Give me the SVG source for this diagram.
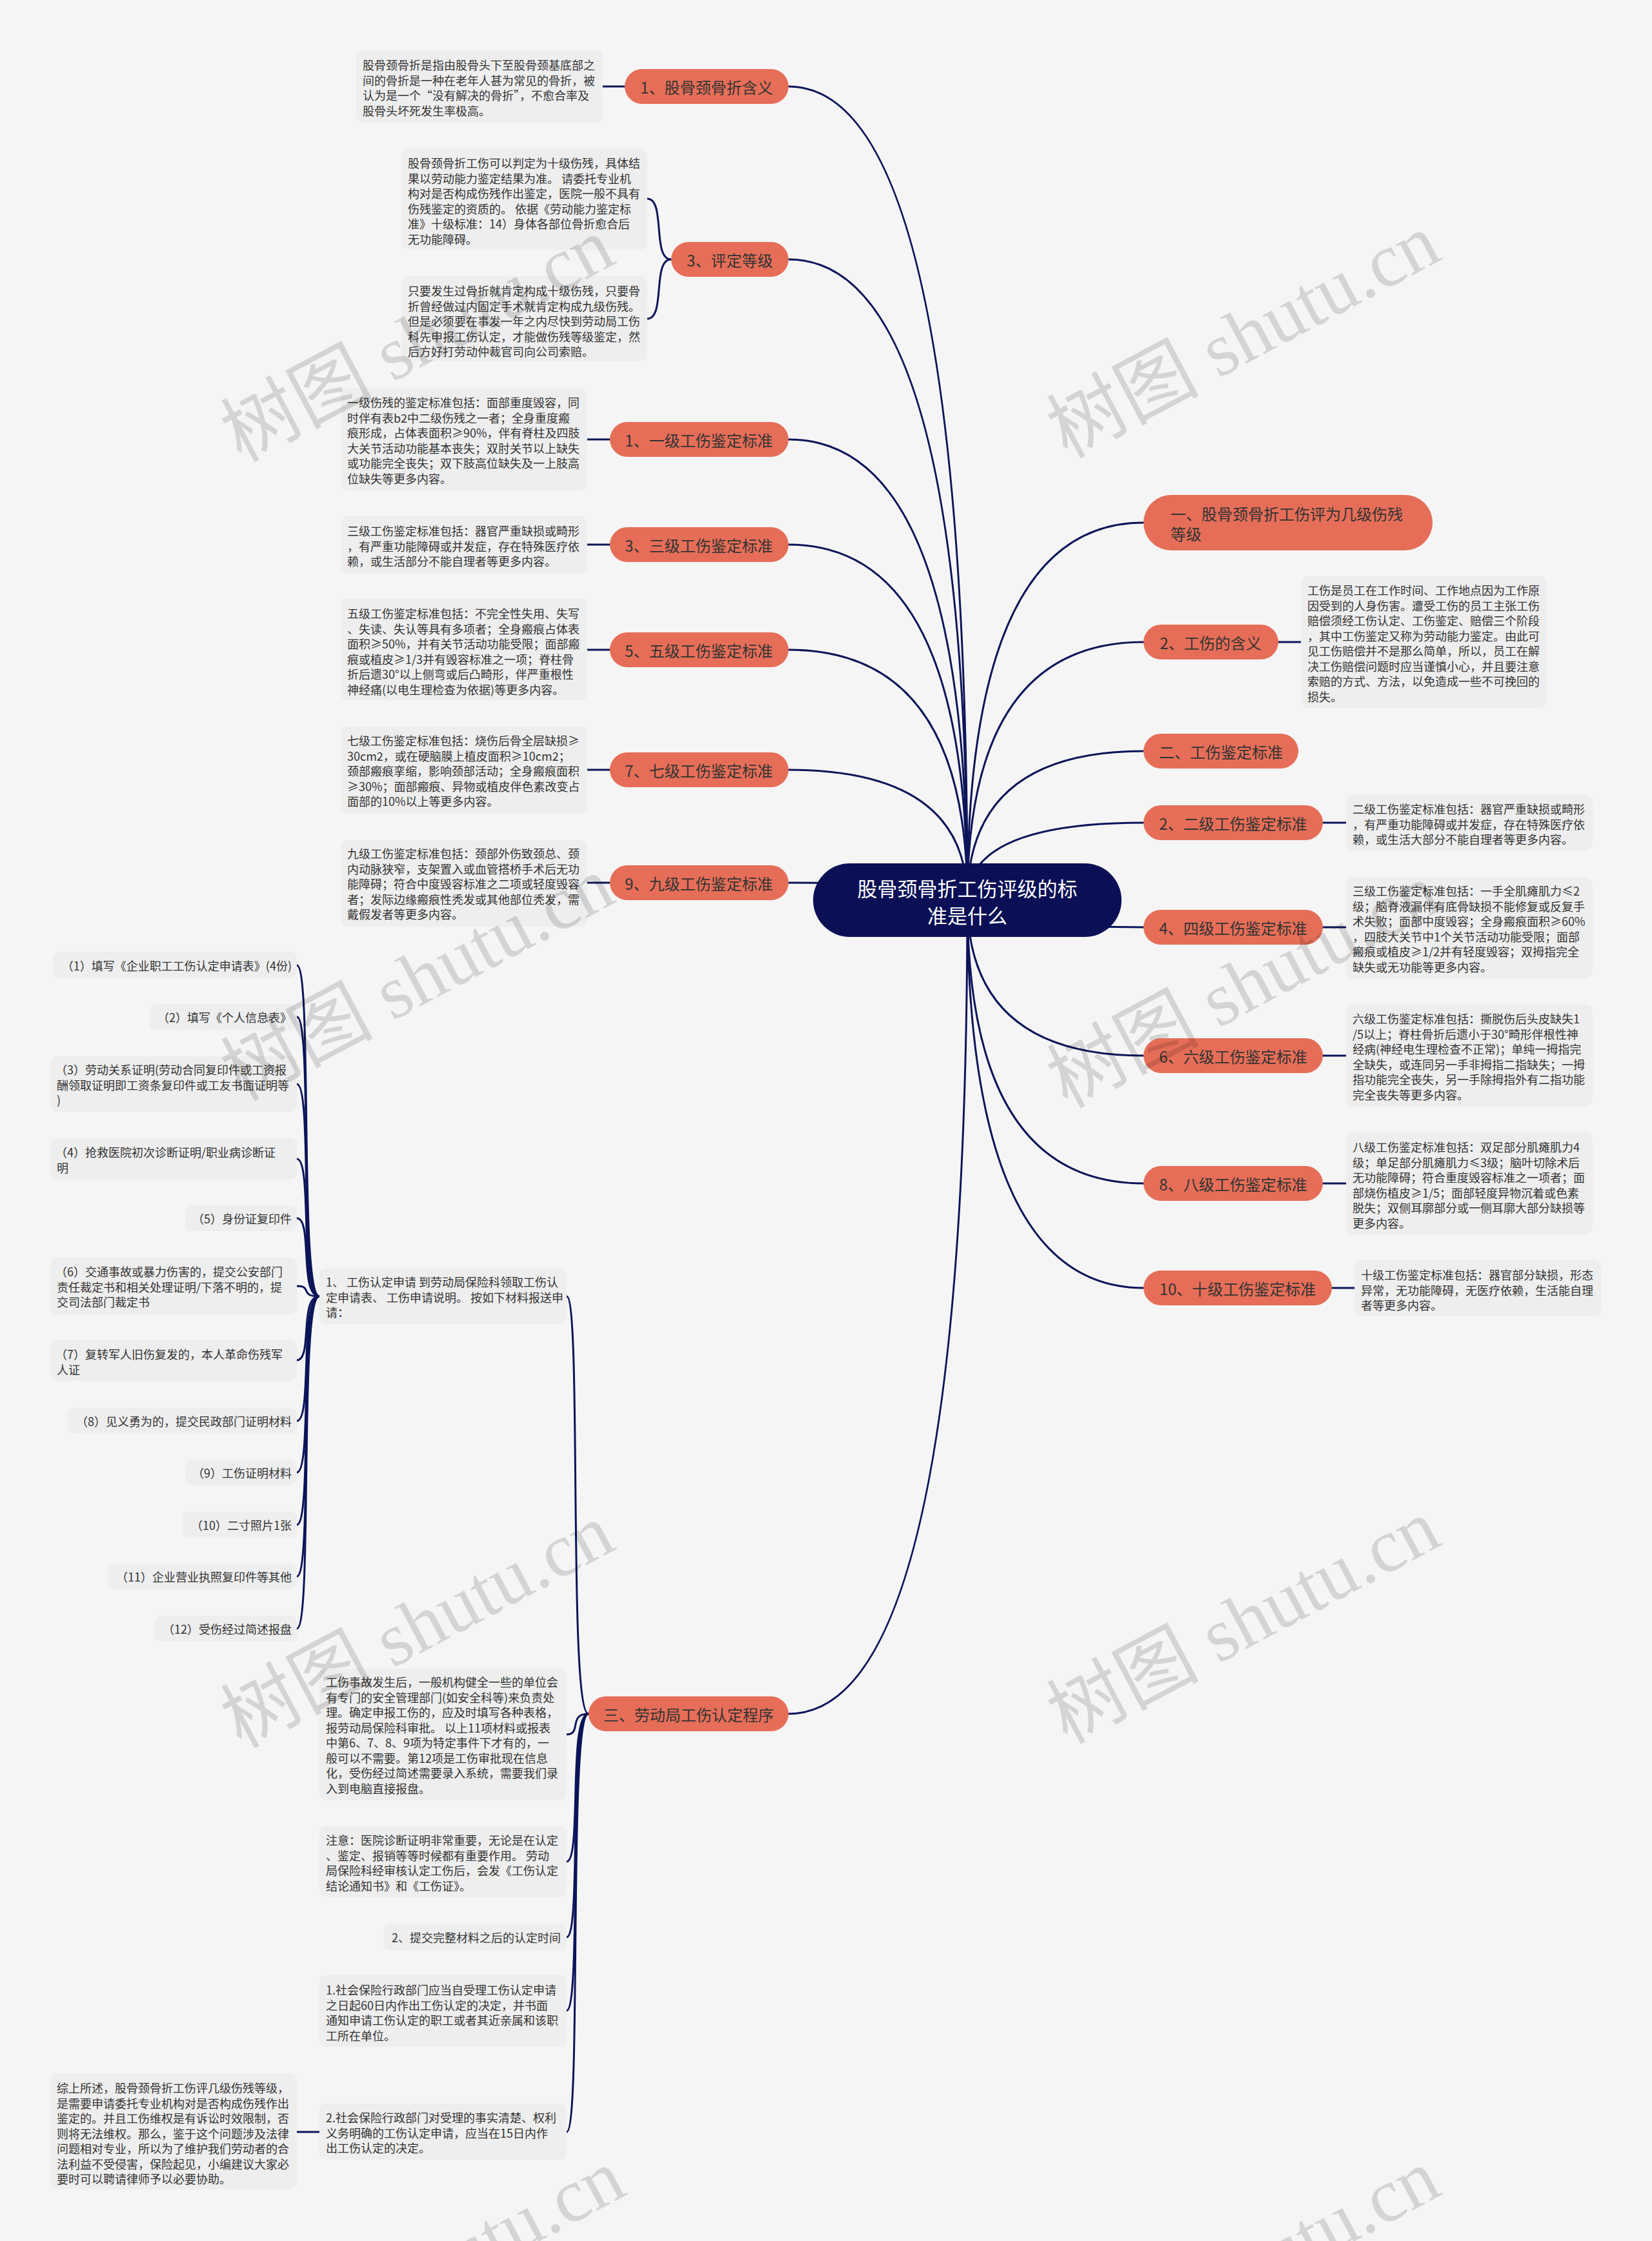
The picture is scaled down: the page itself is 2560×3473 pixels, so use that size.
<svg xmlns="http://www.w3.org/2000/svg" width="2560" height="3473" viewBox="0 0 2560 3473">
<style>
.ln{fill:none;stroke:#0C1559;stroke-width:3;stroke-linecap:round}
.n1{fill:#E66E58}
.root{fill:#0B1056}
.nt{font-family:"Noto Sans CJK SC","Liberation Sans",sans-serif;font-size:24px;fill:#333;text-anchor:middle;dominant-baseline:central}
.rt{font-family:"Noto Sans CJK SC","Liberation Sans",sans-serif;font-size:31px;fill:#fff;text-anchor:middle;dominant-baseline:central}
.box{fill:#EEEEEE}
.bt{font-family:"Noto Sans CJK SC","Liberation Sans",sans-serif;font-size:18px;fill:#333;dominant-baseline:central}
.be{text-anchor:end}
.wm{font-family:"Liberation Serif","Noto Sans CJK SC",serif;font-size:118px;fill:#000;opacity:0.13;text-anchor:middle;dominant-baseline:central}
</style>
<rect x="0" y="0" width="2560" height="3473" fill="#F5F5F5"/>

<g id="connectors">
<path class="ln" d="M1499 1395 Q1499 134 1222 134"/>
<path class="ln" d="M1499 1395 Q1499 402 1222 402"/>
<path class="ln" d="M1499 1395 Q1499 681 1222 681"/>
<path class="ln" d="M1499 1395 Q1499 844 1222 844"/>
<path class="ln" d="M1499 1395 Q1499 1007 1222 1007"/>
<path class="ln" d="M1499 1395 Q1499 1193 1222 1193"/>
<path class="ln" d="M1499 1395 Q1499 1368 1222 1368"/>
<path class="ln" d="M1499 1395 Q1499 2656 1222 2656"/>
<path class="ln" d="M1499 1395 Q1499 810 1772 810"/>
<path class="ln" d="M1499 1395 Q1499 995 1772 995"/>
<path class="ln" d="M1499 1395 Q1499 1164 1772 1164"/>
<path class="ln" d="M1499 1395 Q1499 1275 1772 1275"/>
<path class="ln" d="M1499 1395 Q1499 1437 1772 1437"/>
<path class="ln" d="M1499 1395 Q1499 1636 1772 1636"/>
<path class="ln" d="M1499 1395 Q1499 1834 1772 1834"/>
<path class="ln" d="M1499 1395 Q1499 1996 1772 1996"/>
<path class="ln" d="M934 134 H968"/>
<path class="ln" d="M1040 402 C1010 402 1032 308 1003 308"/>
<path class="ln" d="M1040 402 C1010 402 1032 494 1003 494"/>
<path class="ln" d="M910 681 H945"/>
<path class="ln" d="M910 844 H945"/>
<path class="ln" d="M910 1007 H945"/>
<path class="ln" d="M910 1193 H945"/>
<path class="ln" d="M910 1368 H945"/>
<path class="ln" d="M1981 995 H2016"/>
<path class="ln" d="M2050 1275 H2086"/>
<path class="ln" d="M2050 1437 H2086"/>
<path class="ln" d="M2050 1636 H2086"/>
<path class="ln" d="M2050 1834 H2086"/>
<path class="ln" d="M2064 1996 H2099"/>
<path class="ln" d="M912 2656 C880 2656 902 2009 878 2009"/>
<path class="ln" d="M912 2656 C880 2656 902 2688 878 2688"/>
<path class="ln" d="M912 2656 C880 2656 902 2885 878 2885"/>
<path class="ln" d="M912 2656 C880 2656 902 3002 878 3002"/>
<path class="ln" d="M912 2656 C880 2656 902 3116 878 3116"/>
<path class="ln" d="M912 2656 C880 2656 902 3304 878 3304"/>
<path class="ln" d="M495 2009 C463 2009 485 1496 460 1496"/>
<path class="ln" d="M495 2009 C463 2009 485 1576 460 1576"/>
<path class="ln" d="M495 2009 C463 2009 485 1680 460 1680"/>
<path class="ln" d="M495 2009 C463 2009 485 1796 460 1796"/>
<path class="ln" d="M495 2009 C463 2009 485 1888 460 1888"/>
<path class="ln" d="M495 2009 C463 2009 485 1993 460 1993"/>
<path class="ln" d="M495 2009 C463 2009 485 2108 460 2108"/>
<path class="ln" d="M495 2009 C463 2009 485 2202 460 2202"/>
<path class="ln" d="M495 2009 C463 2009 485 2282 460 2282"/>
<path class="ln" d="M495 2009 C463 2009 485 2363 460 2363"/>
<path class="ln" d="M495 2009 C463 2009 485 2443 460 2443"/>
<path class="ln" d="M495 2009 C463 2009 485 2524 460 2524"/>
<path class="ln" d="M460 3304 H495"/>
</g>

<g id="n-root">
<rect class="root" x="1260" y="1338" width="478" height="114" rx="57"/>
<text class="rt"><tspan x="1499" y="1375">股骨颈骨折工伤评级的标</tspan><tspan x="1499" y="1417">准是什么</tspan></text>
</g>

<g id="n-a"><rect class="n1" x="968" y="107" width="254" height="54" rx="27"/><text class="nt" x="1095" y="134">1、股骨颈骨折含义</text></g>
<g id="n-b"><rect class="n1" x="1040" y="375" width="182" height="54" rx="27"/><text class="nt" x="1131" y="402">3、评定等级</text></g>
<g id="n-c"><rect class="n1" x="945" y="654" width="277" height="54" rx="27"/><text class="nt" x="1083" y="681">1、一级工伤鉴定标准</text></g>
<g id="n-d"><rect class="n1" x="945" y="817" width="277" height="54" rx="27"/><text class="nt" x="1083" y="844">3、三级工伤鉴定标准</text></g>
<g id="n-e"><rect class="n1" x="945" y="980" width="277" height="54" rx="27"/><text class="nt" x="1083" y="1007">5、五级工伤鉴定标准</text></g>
<g id="n-f"><rect class="n1" x="945" y="1166" width="277" height="54" rx="27"/><text class="nt" x="1083" y="1193">7、七级工伤鉴定标准</text></g>
<g id="n-g"><rect class="n1" x="945" y="1341" width="277" height="54" rx="27"/><text class="nt" x="1083" y="1368">9、九级工伤鉴定标准</text></g>
<g id="n-h"><rect class="n1" x="912" y="2629" width="310" height="54" rx="27"/><text class="nt" x="1067" y="2656">三、劳动局工伤认定程序</text></g>

<g id="n-r1"><rect class="n1" x="1772" y="767" width="448" height="86" rx="43"/><text class="nt" style="text-anchor:start"><tspan x="1814" y="795">一、股骨颈骨折工伤评为几级伤残</tspan><tspan x="1814" y="826">等级</tspan></text></g>
<g id="n-r2"><rect class="n1" x="1772" y="968" width="209" height="54" rx="27"/><text class="nt" x="1876" y="995">2、工伤的含义</text></g>
<g id="n-r3"><rect class="n1" x="1772" y="1137" width="240" height="54" rx="27"/><text class="nt" x="1892" y="1164">二、工伤鉴定标准</text></g>
<g id="n-r4"><rect class="n1" x="1772" y="1248" width="278" height="54" rx="27"/><text class="nt" x="1911" y="1275">2、二级工伤鉴定标准</text></g>
<g id="n-r5"><rect class="n1" x="1772" y="1410" width="278" height="54" rx="27"/><text class="nt" x="1911" y="1437">4、四级工伤鉴定标准</text></g>
<g id="n-r6"><rect class="n1" x="1772" y="1609" width="278" height="54" rx="27"/><text class="nt" x="1911" y="1636">6、六级工伤鉴定标准</text></g>
<g id="n-r7"><rect class="n1" x="1772" y="1807" width="278" height="54" rx="27"/><text class="nt" x="1911" y="1834">8、八级工伤鉴定标准</text></g>
<g id="n-r8"><rect class="n1" x="1772" y="1969" width="292" height="54" rx="27"/><text class="nt" x="1918" y="1996">10、十级工伤鉴定标准</text></g>

<g id="d-a"><rect class="box" x="552" y="78" width="382" height="112" rx="10"/>
<text class="bt"><tspan x="562" y="100">股骨颈骨折是指由股骨头下至股骨颈基底部之</tspan><tspan x="562" y="123.5">间的骨折是一种在老年人甚为常见的骨折，被</tspan><tspan x="562" y="147">认为是一个“没有解决的骨折”，不愈合率及</tspan><tspan x="562" y="170.5">股骨头坏死发生率极高。</tspan></text></g>

<g id="d-b1"><rect class="box" x="622" y="230" width="381" height="157" rx="10"/>
<text class="bt"><tspan x="632" y="252">股骨颈骨折工伤可以判定为十级伤残，具体结</tspan><tspan x="632" y="275.5">果以劳动能力鉴定结果为准。 请委托专业机</tspan><tspan x="632" y="299">构对是否构成伤残作出鉴定，医院一般不具有</tspan><tspan x="632" y="322.5">伤残鉴定的资质的。 依据《劳动能力鉴定标</tspan><tspan x="632" y="346">准》十级标准：14）身体各部位骨折愈合后</tspan><tspan x="632" y="369.5">无功能障碍。</tspan></text></g>

<g id="d-b2"><rect class="box" x="622" y="428" width="381" height="132" rx="10"/>
<text class="bt"><tspan x="632" y="450">只要发生过骨折就肯定构成十级伤残，只要骨</tspan><tspan x="632" y="473.5">折曾经做过内固定手术就肯定构成九级伤残。</tspan><tspan x="632" y="497">但是必须要在事发一年之内尽快到劳动局工伤</tspan><tspan x="632" y="520.5">科先申报工伤认定，才能做伤残等级鉴定，然</tspan><tspan x="632" y="544">后方好打劳动仲裁官司向公司索赔。</tspan></text></g>

<g id="d-c"><rect class="box" x="528" y="602" width="382" height="158" rx="10"/>
<text class="bt"><tspan x="538" y="623">一级伤残的鉴定标准包括：面部重度毁容，同</tspan><tspan x="538" y="646.5">时伴有表b2中二级伤残之一者；全身重度瘢</tspan><tspan x="538" y="670">痕形成，占体表面积≥90%，伴有脊柱及四肢</tspan><tspan x="538" y="693.5">大关节活动功能基本丧失；双肘关节以上缺失</tspan><tspan x="538" y="717">或功能完全丧失；双下肢高位缺失及一上肢高</tspan><tspan x="538" y="740.5">位缺失等更多内容。</tspan></text></g>

<g id="d-d"><rect class="box" x="528" y="800" width="382" height="88" rx="10"/>
<text class="bt"><tspan x="538" y="822">三级工伤鉴定标准包括：器官严重缺损或畸形</tspan><tspan x="538" y="845.5">，有严重功能障碍或并发症，存在特殊医疗依</tspan><tspan x="538" y="869">赖，或生活部分不能自理者等更多内容。</tspan></text></g>

<g id="d-e"><rect class="box" x="528" y="928" width="382" height="157" rx="10"/>
<text class="bt"><tspan x="538" y="950">五级工伤鉴定标准包括：不完全性失用、失写</tspan><tspan x="538" y="973.5">、失读、失认等具有多项者；全身瘢痕占体表</tspan><tspan x="538" y="997">面积≥50%，并有关节活动功能受限；面部瘢</tspan><tspan x="538" y="1020.5">痕或植皮≥1/3并有毁容标准之一项；脊柱骨</tspan><tspan x="538" y="1044">折后遗30°以上侧弯或后凸畸形，伴严重根性</tspan><tspan x="538" y="1067.5">神经痛(以电生理检查为依据)等更多内容。</tspan></text></g>

<g id="d-f"><rect class="box" x="528" y="1126" width="382" height="134" rx="10"/>
<text class="bt"><tspan x="538" y="1147">七级工伤鉴定标准包括：烧伤后骨全层缺损≥</tspan><tspan x="538" y="1170.5">30cm2，或在硬脑膜上植皮面积≥10cm2；</tspan><tspan x="538" y="1194">颈部瘢痕挛缩，影响颈部活动；全身瘢痕面积</tspan><tspan x="538" y="1217.5">≥30%；面部瘢痕、异物或植皮伴色素改变占</tspan><tspan x="538" y="1241">面部的10%以上等更多内容。</tspan></text></g>

<g id="d-g"><rect class="box" x="528" y="1302" width="382" height="134" rx="10"/>
<text class="bt"><tspan x="538" y="1322">九级工伤鉴定标准包括：颈部外伤致颈总、颈</tspan><tspan x="538" y="1345.5">内动脉狭窄，支架置入或血管搭桥手术后无功</tspan><tspan x="538" y="1369">能障碍；符合中度毁容标准之二项或轻度毁容</tspan><tspan x="538" y="1392.5">者；发际边缘瘢痕性秃发或其他部位秃发，需</tspan><tspan x="538" y="1416">戴假发者等更多内容。</tspan></text></g>

<g id="d-r2"><rect class="box" x="2016" y="893" width="381" height="204" rx="10"/>
<text class="bt"><tspan x="2026" y="914">工伤是员工在工作时间、工作地点因为工作原</tspan><tspan x="2026" y="937.5">因受到的人身伤害。遭受工伤的员工主张工伤</tspan><tspan x="2026" y="961">赔偿须经工伤认定、工伤鉴定、赔偿三个阶段</tspan><tspan x="2026" y="984.5">，其中工伤鉴定又称为劳动能力鉴定。由此可</tspan><tspan x="2026" y="1008">见工伤赔偿并不是那么简单，所以，员工在解</tspan><tspan x="2026" y="1031.5">决工伤赔偿问题时应当谨慎小心，并且要注意</tspan><tspan x="2026" y="1055">索赔的方式、方法，以免造成一些不可挽回的</tspan><tspan x="2026" y="1078.5">损失。</tspan></text></g>

<g id="d-r4"><rect class="box" x="2086" y="1232" width="382" height="86" rx="10"/>
<text class="bt"><tspan x="2096" y="1253">二级工伤鉴定标准包括：器官严重缺损或畸形</tspan><tspan x="2096" y="1276.5">，有严重功能障碍或并发症，存在特殊医疗依</tspan><tspan x="2096" y="1300">赖，或生活大部分不能自理者等更多内容。</tspan></text></g>

<g id="d-r5"><rect class="box" x="2086" y="1360" width="382" height="157" rx="10"/>
<text class="bt"><tspan x="2096" y="1380">三级工伤鉴定标准包括：一手全肌瘫肌力≤2</tspan><tspan x="2096" y="1403.5">级；脑脊液漏伴有底骨缺损不能修复或反复手</tspan><tspan x="2096" y="1427">术失败；面部中度毁容；全身瘢痕面积≥60%</tspan><tspan x="2096" y="1450.5">，四肢大关节中1个关节活动功能受限；面部</tspan><tspan x="2096" y="1474">瘢痕或植皮≥1/2并有轻度毁容；双拇指完全</tspan><tspan x="2096" y="1497.5">缺失或无功能等更多内容。</tspan></text></g>

<g id="d-r6"><rect class="box" x="2086" y="1557" width="382" height="158" rx="10"/>
<text class="bt"><tspan x="2096" y="1578">六级工伤鉴定标准包括：撕脱伤后头皮缺失1</tspan><tspan x="2096" y="1601.5">/5以上；脊柱骨折后遗小于30°畸形伴根性神</tspan><tspan x="2096" y="1625">经病(神经电生理检查不正常)；单纯一拇指完</tspan><tspan x="2096" y="1648.5">全缺失，或连同另一手非拇指二指缺失；一拇</tspan><tspan x="2096" y="1672">指功能完全丧失，另一手除拇指外有二指功能</tspan><tspan x="2096" y="1695.5">完全丧失等更多内容。</tspan></text></g>

<g id="d-r7"><rect class="box" x="2086" y="1755" width="382" height="158" rx="10"/>
<text class="bt"><tspan x="2096" y="1777">八级工伤鉴定标准包括：双足部分肌瘫肌力4</tspan><tspan x="2096" y="1800.5">级；单足部分肌瘫肌力≤3级；脑叶切除术后</tspan><tspan x="2096" y="1824">无功能障碍；符合重度毁容标准之一项者；面</tspan><tspan x="2096" y="1847.5">部烧伤植皮≥1/5；面部轻度异物沉着或色素</tspan><tspan x="2096" y="1871">脱失；双侧耳廓部分或一侧耳廓大部分缺损等</tspan><tspan x="2096" y="1894.5">更多内容。</tspan></text></g>

<g id="d-r8"><rect class="box" x="2099" y="1953" width="382" height="87" rx="10"/>
<text class="bt"><tspan x="2109" y="1975">十级工伤鉴定标准包括：器官部分缺损，形态</tspan><tspan x="2109" y="1998.5">异常，无功能障碍，无医疗依赖，生活能自理</tspan><tspan x="2109" y="2022">者等更多内容。</tspan></text></g>

<g id="h-a"><rect class="box" x="495" y="1966" width="383" height="86" rx="10"/>
<text class="bt"><tspan x="505" y="1986">1、 工伤认定申请 到劳动局保险科领取工伤认</tspan><tspan x="505" y="2009.5">定申请表、 工伤申请说明。 按如下材料报送申</tspan><tspan x="505" y="2033">请：</tspan></text></g>

<g id="h-b"><rect class="box" x="495" y="2586" width="383" height="204" rx="10"/>
<text class="bt"><tspan x="505" y="2606">工伤事故发生后，一般机构健全一些的单位会</tspan><tspan x="505" y="2629.5">有专门的安全管理部门(如安全科等)来负责处</tspan><tspan x="505" y="2653">理。确定申报工伤的，应及时填写各种表格，</tspan><tspan x="505" y="2676.5">报劳动局保险科审批。 以上11项材料或报表</tspan><tspan x="505" y="2700">中第6、7、8、9项为特定事件下才有的，一</tspan><tspan x="505" y="2723.5">般可以不需要。第12项是工伤审批现在信息</tspan><tspan x="505" y="2747">化，受伤经过简述需要录入系统，需要我们录</tspan><tspan x="505" y="2770.5">入到电脑直接报盘。</tspan></text></g>

<g id="h-c"><rect class="box" x="495" y="2830" width="383" height="110" rx="10"/>
<text class="bt"><tspan x="505" y="2851">注意：医院诊断证明非常重要，无论是在认定</tspan><tspan x="505" y="2874.5">、鉴定、报销等等时候都有重要作用。 劳动</tspan><tspan x="505" y="2898">局保险科经审核认定工伤后，会发《工伤认定</tspan><tspan x="505" y="2921.5">结论通知书》和《工伤证》。</tspan></text></g>

<g id="h-d"><rect class="box" x="595" y="2981" width="283" height="42" rx="10"/>
<text class="bt be" x="869" y="3002">2、提交完整材料之后的认定时间</text></g>

<g id="h-e"><rect class="box" x="495" y="3061" width="383" height="111" rx="10"/>
<text class="bt"><tspan x="505" y="3083">1.社会保险行政部门应当自受理工伤认定申请</tspan><tspan x="505" y="3106.5">之日起60日内作出工伤认定的决定，并书面</tspan><tspan x="505" y="3130">通知申请工伤认定的职工或者其近亲属和该职</tspan><tspan x="505" y="3153.5">工所在单位。</tspan></text></g>

<g id="h-f"><rect class="box" x="495" y="3260" width="383" height="87" rx="10"/>
<text class="bt"><tspan x="505" y="3281">2.社会保险行政部门对受理的事实清楚、权利</tspan><tspan x="505" y="3304.5">义务明确的工伤认定申请，应当在15日内作</tspan><tspan x="505" y="3328">出工伤认定的决定。</tspan></text></g>

<g id="h-g"><rect class="box" x="78" y="3213" width="382" height="180" rx="10"/>
<text class="bt"><tspan x="88" y="3235">综上所述，股骨颈骨折工伤评几级伤残等级，</tspan><tspan x="88" y="3258.5">是需要申请委托专业机构对是否构成伤残作出</tspan><tspan x="88" y="3282">鉴定的。并且工伤维权是有诉讼时效限制，否</tspan><tspan x="88" y="3305.5">则将无法维权。那么，鉴于这个问题涉及法律</tspan><tspan x="88" y="3329">问题相对专业，所以为了维护我们劳动者的合</tspan><tspan x="88" y="3352.5">法利益不受侵害，保险起见，小编建议大家必</tspan><tspan x="88" y="3376">要时可以聘请律师予以必要协助。</tspan></text></g>

<g id="l-1"><rect class="box" x="82" y="1475" width="378" height="41" rx="10"/><text class="bt be" x="452" y="1496">（1）填写《企业职工工伤认定申请表》(4份)</text></g>
<g id="l-2"><rect class="box" x="232" y="1556" width="228" height="40" rx="10"/><text class="bt be" x="452" y="1576">（2）填写《个人信息表》</text></g>
<g id="l-3"><rect class="box" x="78" y="1637" width="382" height="86" rx="10"/><text class="bt"><tspan x="86" y="1657">（3）劳动关系证明(劳动合同复印件或工资报</tspan><tspan x="88" y="1680.5">酬领取证明即工资条复印件或工友书面证明等</tspan><tspan x="88" y="1704">)</tspan></text></g>
<g id="l-4"><rect class="box" x="78" y="1764" width="382" height="64" rx="10"/><text class="bt"><tspan x="86" y="1785">（4）抢救医院初次诊断证明/职业病诊断证</tspan><tspan x="88" y="1808.5">明</tspan></text></g>
<g id="l-5"><rect class="box" x="287" y="1868" width="173" height="40" rx="10"/><text class="bt be" x="452" y="1888">（5）身份证复印件</text></g>
<g id="l-6"><rect class="box" x="78" y="1949" width="382" height="88" rx="10"/><text class="bt"><tspan x="86" y="1970">（6）交通事故或暴力伤害的，提交公安部门</tspan><tspan x="88" y="1993.5">责任裁定书和相关处理证明/下落不明的，提</tspan><tspan x="88" y="2017">交司法部门裁定书</tspan></text></g>
<g id="l-7"><rect class="box" x="78" y="2077" width="382" height="63" rx="10"/><text class="bt"><tspan x="86" y="2098">（7）复转军人旧伤复发的，本人革命伤残军</tspan><tspan x="88" y="2121.5">人证</tspan></text></g>
<g id="l-8"><rect class="box" x="105" y="2182" width="355" height="40" rx="10"/><text class="bt be" x="452" y="2202">（8）见义勇为的，提交民政部门证明材料</text></g>
<g id="l-9"><rect class="box" x="287" y="2262" width="173" height="40" rx="10"/><text class="bt be" x="452" y="2282">（9）工伤证明材料</text></g>
<g id="l-10"><rect class="box" x="283" y="2343" width="177" height="40" rx="10"/><text class="bt be" x="452" y="2363">（10）二寸照片1张</text></g>
<g id="l-11"><rect class="box" x="167" y="2423" width="293" height="40" rx="10"/><text class="bt be" x="452" y="2443">（11）企业营业执照复印件等其他</text></g>
<g id="l-12"><rect class="box" x="240" y="2504" width="220" height="40" rx="10"/><text class="bt be" x="452" y="2524">（12）受伤经过简述报盘</text></g>

<g id="watermarks">
<text class="wm" x="647" y="527" transform="rotate(-28 647 527)">树图 shutu.cn</text>
<text class="wm" x="1927" y="521" transform="rotate(-28 1927 521)">树图 shutu.cn</text>
<text class="wm" x="647" y="1517" transform="rotate(-28 647 1517)">树图 shutu.cn</text>
<text class="wm" x="1927" y="1528" transform="rotate(-28 1927 1528)">树图 shutu.cn</text>
<text class="wm" x="647" y="2520" transform="rotate(-28 647 2520)">树图 shutu.cn</text>
<text class="wm" x="1927" y="2513" transform="rotate(-28 1927 2513)">树图 shutu.cn</text>
<text class="wm" x="664" y="3520" transform="rotate(-28 664 3520)">树图 shutu.cn</text>
<text class="wm" x="1927" y="3520" transform="rotate(-28 1927 3520)">树图 shutu.cn</text>
</g>
</svg>
